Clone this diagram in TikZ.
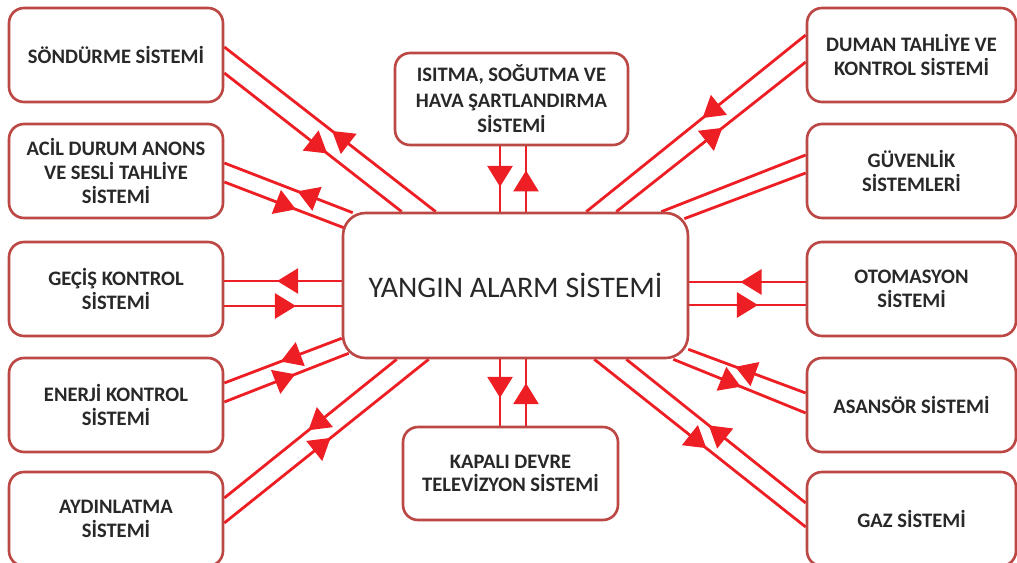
\documentclass[tikz,border=0pt]{standalone}
\usepackage{fontspec}
\setmainfont{Carlito}
\usetikzlibrary{arrows.meta,calc,decorations.markings,backgrounds}

\definecolor{boxred}{RGB}{188,72,70}
\definecolor{linkred}{RGB}{237,30,36}
\definecolor{txtgray}{RGB}{40,40,40}

\tikzset{
	sysbox/.style={draw=boxred, line width=1.5pt, fill=white, rounded corners=0.3cm, align=center, text=txtgray, font=\fontsize{11.7}{13.4}\selectfont\bfseries, minimum height=1.88cm, inner sep=2pt},
	leftbox/.style={sysbox, minimum width=4.28cm},
	rightbox/.style={sysbox, minimum width=4.18cm},
	link/.style={linkred, line width=1.6pt},
	inarr/.style={link, postaction={decorate}, decoration={markings, mark=at position #1 with {\arrow{Triangle[length=0.42cm,width=0.5cm]}}}},
	outarr/.style={link, postaction={decorate}, decoration={markings, mark=at position #1 with {\arrowreversed{Triangle[length=0.42cm,width=0.5cm]}}}}
}

\begin{document}
\begin{tikzpicture}[x=0.02cm, y=-0.02cm]
	\useasboundingbox (0,0) rectangle (1017,563);
	
	\node[sysbox, minimum width=6.9cm, minimum height=2.9cm, rounded corners=0.45cm, font=\fontsize{17}{20}\selectfont] (yas) at (515.5,285.5) {YANGIN ALARM SİSTEMİ};
	
	\node[leftbox] (son) at (116,55)  {SÖNDÜRME SİSTEMİ};
	\node[leftbox] (acil) at (116,171) {ACİL DURUM ANONS\\VE SESLİ TAHLİYE\\SİSTEMİ};
	\node[leftbox] (gec) at (116,289) {GEÇİŞ KONTROL\\SİSTEMİ};
	\node[leftbox] (ene) at (116,405) {ENERJİ KONTROL\\SİSTEMİ};
	\node[leftbox] (ayd) at (116,519) {AYDINLATMA\\SİSTEMİ};
	
	\node[rightbox] (dum) at (911.5,55)  {DUMAN TAHLİYE VE\\KONTROL SİSTEMİ};
	\node[rightbox] (guv) at (911.5,171) {GÜVENLİK\\SİSTEMLERİ};
	\node[rightbox] (oto) at (911.5,289) {OTOMASYON\\SİSTEMİ};
	\node[rightbox] (asa) at (911.5,405) {ASANSÖR SİSTEMİ};
	\node[rightbox] (gaz) at (911.5,519) {GAZ SİSTEMİ};
	
	\node[sysbox, minimum width=4.66cm, minimum height=1.84cm, font=\fontsize{11.7}{14.5}\selectfont\bfseries] (isi) at (511.5,99) {ISITMA, SOĞUTMA VE\\HAVA ŞARTLANDIRMA\\SİSTEMİ};
	\node[sysbox, minimum width=4.3cm, minimum height=1.86cm] (kap) at (510.5,473.5) {KAPALI DEVRE\\TELEVİZYON SİSTEMİ};
	
	\begin{pgfonlayer}{background}
	\draw[outarr=0.51] ($(son.east)+(0,-8)$) -- ($(yas.north west)+(94,0)$);
	\draw[inarr=0.58] ($(son.east)+(0,18)$) -- ($(yas.north west)+(60,0)$);
	\draw[outarr=0.57] ($(acil.east)+(0,-8)$) -- ($(yas.north west)+(11,1)$);
	\draw[inarr=0.6] ($(acil.east)+(0,11)$) -- ($(yas.north west)+(2,16)$);
	\draw[outarr=0.45] ($(gec.east)+(0,-8)$) coordinate (g1) -- (g1 -| yas.west);
	\draw[inarr=0.61] ($(gec.east)+(0,17)$) coordinate (g2) -- (g2 -| yas.west);
	\draw[outarr=0.48] ($(ene.east)+(0,-22)$) -- ($(yas.south west)+(0,-21)$);
	\draw[inarr=0.57] ($(ene.east)+(0,-3)$) -- ($(yas.south west)+(7,-6)$);
	\draw[outarr=0.49] ($(ayd.east)+(0,-21)$) -- ($(yas.south west)+(55,0)$);
	\draw[inarr=0.52] ($(ayd.east)+(0,4)$) -- ($(yas.south west)+(87,0)$);
	
	\draw[inarr=0.47] ($(dum.west)+(0,-20)$) -- ($(yas.north east)+(-103,0)$);
	\draw[outarr=0.44] ($(dum.west)+(0,7)$) -- ($(yas.north east)+(-73,0)$);
	\draw[link] ($(guv.west)+(0,-16)$) -- ($(yas.north east)+(-28,0)$);
	\draw[link] ($(guv.west)+(0,2)$) -- ($(yas.north east)+(-5,7)$);
	\draw[inarr=0.56] ($(oto.west)+(0,-7)$) coordinate (o1) -- (o1 -| yas.east);
	\draw[outarr=0.41] ($(oto.west)+(0,16)$) coordinate (o2) -- (o2 -| yas.east);
	\draw[inarr=0.6] ($(asa.west)+(0,-12)$) -- ($(yas.south east)+(-1,-10)$);
	\draw[outarr=0.49] ($(asa.west)+(0,8)$) -- ($(yas.south east)+(-16,0)$);
	\draw[inarr=0.54] ($(gaz.west)+(0,-16)$) -- ($(yas.south east)+(-63,0)$);
	\draw[outarr=0.47] ($(gaz.west)+(0,8)$) -- ($(yas.south east)+(-95,0)$);
	
	\draw[inarr=0.62] ($(isi.south)+(-11.5,0)$) coordinate (i1) -- (i1 |- yas.north);
	\draw[outarr=0.37] ($(isi.south)+(14.5,0)$) coordinate (i2) -- (i2 |- yas.north);
	\draw[inarr=0.64] ($(kap.north)+(15.5,0)$) coordinate (k1) -- (k1 |- yas.south);
	\draw[outarr=0.42] ($(kap.north)+(-10.5,0)$) coordinate (k2) -- (k2 |- yas.south);
	\end{pgfonlayer}
	
\end{tikzpicture}
\end{document}
